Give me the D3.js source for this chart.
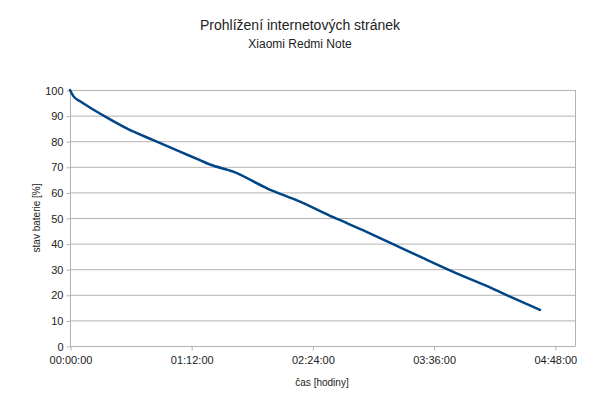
<!DOCTYPE html>
<html><head><meta charset="utf-8">
<script src="https://cdn.jsdelivr.net/npm/d3@7"></script>
<style>body{margin:0;background:#fff}svg{display:block;font-family:"Liberation Sans",Arial,sans-serif}</style>
</head><body><svg id="c" width="600" height="405"></svg>
<script>
const title = "Prohlížení internetových stránek";
const subtitle = "Xiaomi Redmi Note";
const yLabel = "stav baterie [%]";
const xLabel = "čas [hodiny]";
const minutes = [0, 2, 6, 14, 22, 34, 49.5, 65.3, 77.2, 83.2, 97, 117, 136.6, 156.4, 176.2, 190, 209.9, 229.7, 249.5, 261.4, 279.2];
const battery = [100, 97.6, 95.6, 92.3, 89.2, 84.9, 80.4, 75.9, 72.6, 70.9, 68.1, 61.6, 56.4, 50.3, 44.6, 40.4, 34.3, 28.4, 22.9, 19.3, 14.1];
const xTicks = [0, 72, 144, 216, 288];
const xTickLabels = ["00:00:00", "01:12:00", "02:24:00", "03:36:00", "04:48:00"];
const yTicks = [0, 10, 20, 30, 40, 50, 60, 70, 80, 90, 100];

const svg = d3.select("#c");
const m = {l: 70, r: 25, t: 90, b: 59};
const W = 600, H = 405;
const x = d3.scaleLinear().domain([0, 300]).range([m.l, W - m.r]);
const y = d3.scaleLinear().domain([0, 100]).range([H - m.b, m.t]);

// grid
svg.append("g").selectAll("line").data(yTicks).join("line")
  .attr("x1", m.l).attr("x2", W - m.r)
  .attr("y1", d => y(d) + 0.5).attr("y2", d => y(d) + 0.5)
  .attr("stroke", "#b3b3b3").attr("stroke-width", 1);
// right border
svg.append("line").attr("x1", W - m.r + 0.5).attr("x2", W - m.r + 0.5)
  .attr("y1", y(100)).attr("y2", y(0)).attr("stroke", "#b3b3b3");

// y axis
const ya = svg.append("g").attr("transform", `translate(${m.l + 0.5},0.5)`)
  .call(d3.axisLeft(y).tickValues(yTicks).tickSize(4).tickPadding(3));
ya.select(".domain").attr("stroke", "#b3b3b3").attr("d", `M0,${y(100)-0.5}V${y(0)}`);
ya.selectAll(".tick line").attr("stroke", "#b3b3b3");
ya.selectAll("text").attr("font-size", 11).attr("fill", "#222").attr("font-family", "Liberation Sans, Arial, sans-serif");

// x axis
const xa = svg.append("g").attr("transform", `translate(0.5,${y(0) + 0.5})`)
  .call(d3.axisBottom(x).tickValues(xTicks).tickFormat((d, i) => xTickLabels[i]).tickSize(4).tickPadding(6));
xa.select(".domain").attr("stroke", "#b3b3b3").attr("d", `M${m.l},0H${W - m.r}`);
xa.selectAll(".tick line").attr("stroke", "#b3b3b3");
xa.selectAll("text").attr("font-size", 11).attr("fill", "#222").attr("font-family", "Liberation Sans, Arial, sans-serif");

// line
const line = d3.line().x((d, i) => x(minutes[i])).y(d => y(d)).curve(d3.curveMonotoneX);
svg.append("path").datum(battery).attr("d", line)
  .attr("fill", "none").attr("stroke", "#004586").attr("stroke-width", 2.5)
  .attr("stroke-linejoin", "round").attr("stroke-linecap", "round");

// titles
svg.append("text").attr("x", 300).attr("y", 30).attr("text-anchor", "middle")
  .attr("font-size", 14).attr("fill", "#222").text(title);
svg.append("text").attr("x", 300).attr("y", 48).attr("text-anchor", "middle")
  .attr("font-size", 12).attr("fill", "#222").text(subtitle);
svg.append("text").attr("x", 322).attr("y", 386).attr("text-anchor", "middle")
  .attr("font-size", 10).attr("fill", "#222").text(xLabel);
svg.append("text").attr("transform", "translate(40,218) rotate(-90)").attr("text-anchor", "middle")
  .attr("font-size", 10).attr("fill", "#222").text(yLabel);
</script></body></html>
